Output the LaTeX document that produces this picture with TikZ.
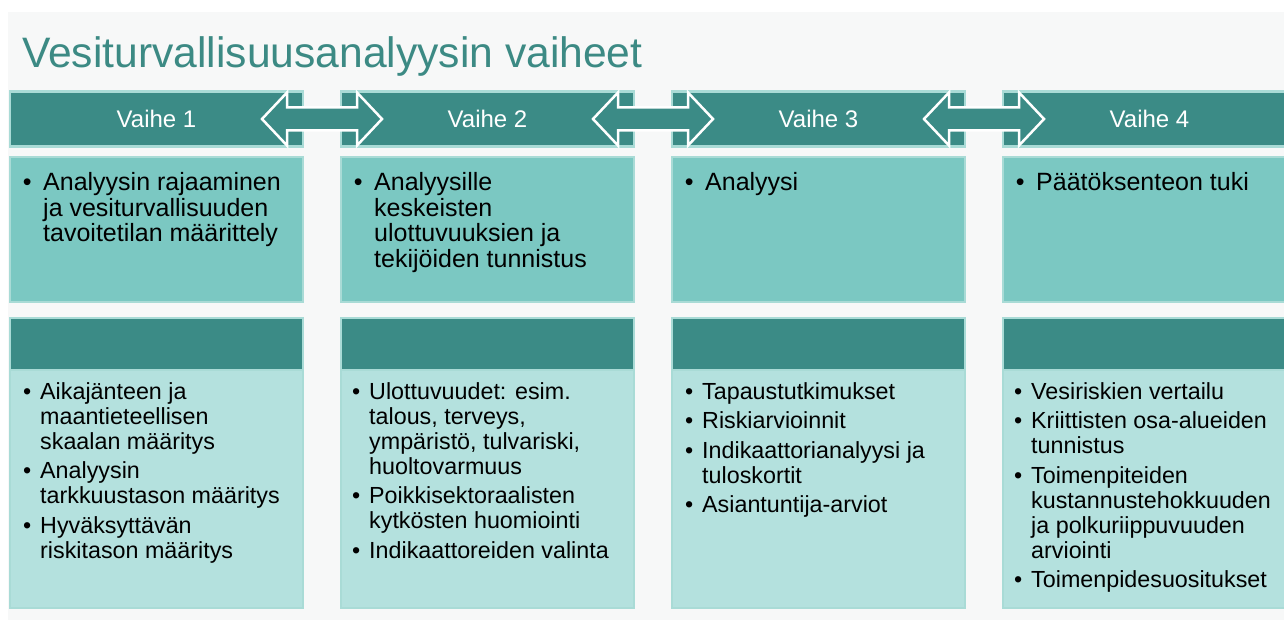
\documentclass[tikz,border=0pt]{standalone}
\usepackage{fontspec}
\setmainfont{Liberation Sans}
\usetikzlibrary{positioning,calc}
\definecolor{deep}{HTML}{3B8B86}
\definecolor{mid}{HTML}{7BC8C2}
\definecolor{pale}{HTML}{B4E1DE}
\definecolor{edge}{HTML}{A9DBD6}
\definecolor{panel}{HTML}{F7F8F8}
\definecolor{headc}{HTML}{3C8A84}

% bullet paragraphs with a hanging indent
\newcommand\bitem[2][20.4pt]{\noindent\hangindent=#1\hangafter=1\makebox[#1][l]{\textbullet}#2\par}
\newcommand\bgap{\vspace{4.5pt}}

\begin{document}
\begin{tikzpicture}[x=1pt,y=-1pt,
  bar/.style={fill=deep,draw=edge,line width=2.5pt,outer sep=0pt,minimum width=293pt,minimum height=55pt,text=white,font=\fontsize{24}{24}\selectfont},
  upcard/.style={fill=mid,draw=edge,line width=2.5pt,outer sep=0pt,minimum width=293pt,minimum height=145pt},
  lohead/.style={fill=deep,draw=edge,line width=2.5pt,outer sep=0pt,minimum width=293pt,minimum height=52pt},
  lobody/.style={fill=pale,draw=edge,line width=2.5pt,outer sep=0pt,minimum width=293pt,minimum height=238pt},
  uptxt/.style={anchor=base west,inner sep=0pt,font=\fontsize{25}{25.5}\selectfont},
  lotxt/.style={anchor=base west,inner sep=0pt,font=\fontsize{23.3}{25}\selectfont},
  dbl/.style={fill=deep,draw=white,line width=2.5pt,line join=miter}]
  \useasboundingbox (0,0) rectangle (1284,620);
  \fill[white] (0,0) rectangle (1284,620);
  \fill[panel] (8,12) rectangle (1284,620);

  \node[anchor=base west,inner sep=0pt,text=headc,font=\fontsize{42.6}{42.6}\selectfont] (title) at (22,68) {Vesiturvallisuusanalyysin vaiheet};

  % phase bars
  \node[bar] (bar1) at (156.5,119) {Vaihe 1};
  \node[bar,right=38pt of bar1] (bar2) {Vaihe 2};
  \node[bar,right=38pt of bar2] (bar3) {Vaihe 3};
  \node[bar,right=38pt of bar3] (bar4) {Vaihe 4};

  % cards under each bar
  \foreach \i in {1,2,3,4} {
    \node[upcard,below=10.5pt of bar\i] (up\i) {};
    \node[lobody,below=68pt of up\i] (lo\i) {};
    \node[lohead,above=0pt of lo\i] (hd\i) {};
  }

  % two-headed arrows between the bars
  \foreach \a/\b in {1/2,2/3,3/4} {
    \coordinate (m\a) at ($(bar\a.east)!0.5!(bar\b.west)$);
    \begin{scope}[shift={(m\a)}]
      \draw[dbl] (-60,0) -- (-35,-26.5) -- (-35,-11.5) -- (35,-11.5) -- (35,-26.5)
        -- (60,0) -- (35,26.5) -- (35,11.5) -- (-35,11.5) -- (-35,26.5) -- cycle;
    \end{scope}
  }

  % upper card texts
  \node[uptxt] (u1) at ($(up1.north west)+(12.6,34)$) {\parbox[t]{290pt}{%
    \bitem{Analyysin rajaaminen\newline ja vesiturvallisuuden\newline tavoitetilan määrittely}}};
  \node[uptxt] (u2) at ($(up2.north west)+(12.6,34)$) {\parbox[t]{290pt}{%
    \bitem{Analyysille\newline keskeisten\newline ulottuvuuksien ja\newline tekijöiden tunnistus}}};
  \node[uptxt] (u3) at ($(up3.north west)+(12.6,34)$) {\parbox[t]{290pt}{%
    \bitem{Analyysi}}};
  \node[uptxt] (u4) at ($(up4.north west)+(12.6,34)$) {\parbox[t]{290pt}{%
    \bitem{Päätöksenteon tuki}}};

  % lower card texts
  \node[lotxt] (l1) at ($(lo1.north west)+(13,29)$) {\parbox[t]{290pt}{%
    \bitem[17pt]{Aikajänteen ja\newline maantieteellisen\newline skaalan määritys}\bgap
    \bitem[17pt]{Analyysin\newline tarkkuustason määritys}\bgap
    \bitem[17pt]{Hyväksyttävän\newline riskitason määritys}}};
  \node[lotxt] (l2) at ($(lo2.north west)+(11,29)$) {\parbox[t]{290pt}{%
    \bitem[17pt]{Ulottuvuudet: esim.\newline talous, terveys,\newline ympäristö, tulvariski,\newline huoltovarmuus}\bgap
    \bitem[17pt]{Poikkisektoraalisten\newline kytkösten huomiointi}\bgap
    \bitem[17pt]{Indikaattoreiden valinta}}};
  \node[lotxt] (l3) at ($(lo3.north west)+(13,29)$) {\parbox[t]{290pt}{%
    \bitem[17pt]{Tapaustutkimukset}\bgap
    \bitem[17pt]{Riskiarvioinnit}\bgap
    \bitem[17pt]{Indikaattorianalyysi ja\newline tuloskortit}\bgap
    \bitem[17pt]{Asiantuntija-arviot}}};
  \node[lotxt] (l4) at ($(lo4.north west)+(11,29)$) {\parbox[t]{290pt}{%
    \bitem[17pt]{Vesiriskien vertailu}\bgap
    \bitem[17pt]{Kriittisten osa-alueiden\newline tunnistus}\bgap
    \bitem[17pt]{Toimenpiteiden\newline kustannustehokkuuden\newline ja polkuriippuvuuden\newline arviointi}\bgap
    \bitem[17pt]{Toimenpidesuositukset}}};
\end{tikzpicture}
\end{document}
